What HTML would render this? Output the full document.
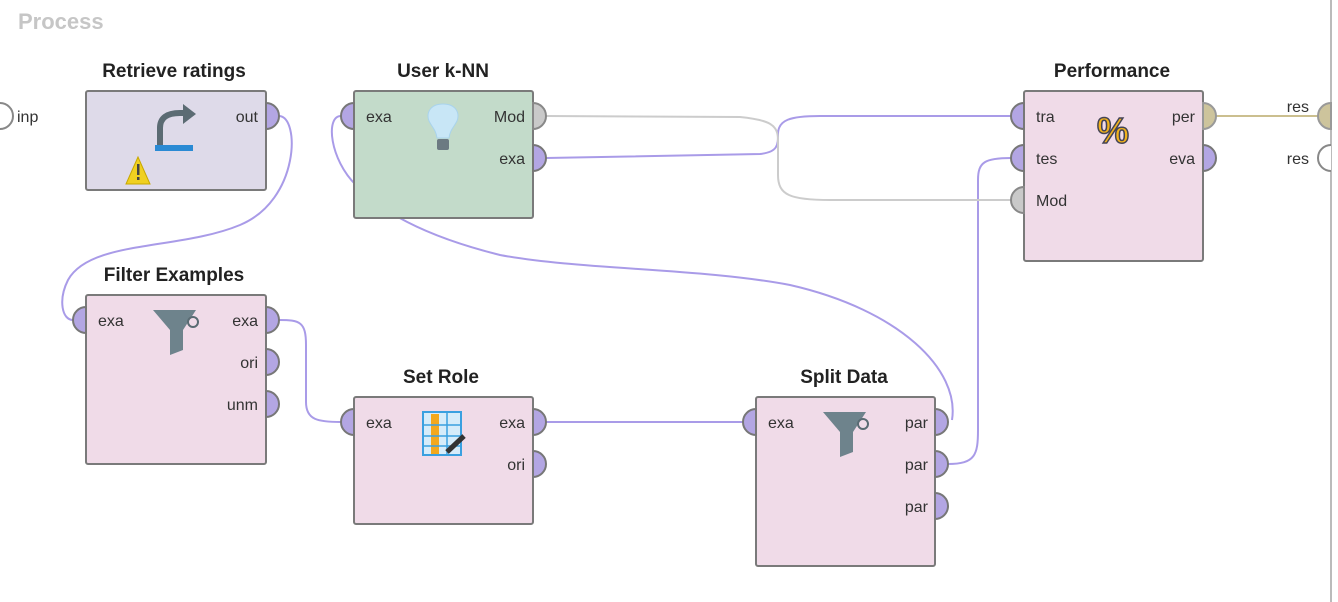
<!DOCTYPE html>
<html><head><meta charset="utf-8"><style>
html,body{margin:0;padding:0;background:#fff;width:1338px;height:602px;overflow:hidden}
svg{display:block;font-family:"Liberation Sans",sans-serif}
.t{font-weight:bold;font-size:19px;fill:#222;text-anchor:middle}
.p{font-size:16px;fill:#333}
.n{stroke:#7a7a7a;stroke-width:2}
.pp{fill:#b3a6e3;stroke:#777;stroke-width:2}
.pg{fill:#c9c9c9;stroke:#888;stroke-width:2}
.pt{fill:#cdc49c;stroke:#999;stroke-width:2}
.w{fill:none;stroke:#a99be8;stroke-width:2}
.wg{fill:none;stroke:#cccccc;stroke-width:2}
</style></head><body>
<svg width="1338" height="602" viewBox="0 0 1338 602">
<text x="18" y="29" font-size="22" font-weight="bold" fill="#c6c6c6">Process</text>
<line x1="1331" y1="0" x2="1331" y2="602" stroke="#bbb" stroke-width="2"/>

<!-- wires -->
<path class="w" d="M279,116 C300,116 300,200 240,225 C180,250 90,240 68,280 C58,300 62,320 73,320"/>
<path class="w" d="M279,320 C300,320 306,322 306,345 L306,402 C306,420 318,422 341,422"/>
<path class="w" d="M546,422 L743,422"/>
<path class="w" d="M341,116 C325,116 330,160 356,185 C380,210 420,235 500,255 C580,270 700,268 790,285 C900,310 960,370 952,420"/>
<path class="w" d="M948,464 C975,464 978,455 978,430 L978,180 C978,162 985,158 1011,158"/>
<path class="w" d="M546,158 L760,154 C778,152 778,145 778,134 C778,120 790,116 820,116 L1011,116"/>
<path class="wg" d="M546,116 L740,117 C770,120 778,125 778,140 L778,175 C778,195 790,200 830,200 L1011,200"/>
<path d="M1216,116 L1318,116" stroke="#cbbf8f" stroke-width="2"/>

<!-- left inp -->
<path class="pg" d="M0,103 A13,13 0 0 1 0,129" style="fill:#fff"/>
<text x="17" y="122" class="p">inp</text>
<!-- right res -->
<path class="pt" d="M1331,103 A13,13 0 0 0 1331,129 Z"/>
<text x="1309" y="112" class="p" text-anchor="end">res</text>
<path class="pg" d="M1331,145 A13,13 0 0 0 1331,171" style="fill:#fff"/>
<text x="1309" y="164" class="p" text-anchor="end">res</text>

<!-- Retrieve ratings -->
<text x="174" y="77" class="t">Retrieve ratings</text>
<rect x="86" y="91" width="180" height="99" rx="2" fill="#dedae9" class="n"/>
<path class="pp" d="M266,103 A13,13 0 0 1 266,129 Z"/>
<text x="258" y="122" class="p" text-anchor="end">out</text>
<path d="M160,145 L160,128 Q160,113 180,113 L185,113" stroke="#5b6b73" stroke-width="6" fill="none"/>
<path d="M183,104 L196,114 L183,124 Z" fill="#5b6b73"/>
<rect x="155" y="145" width="38" height="6" fill="#2a8ad4"/>
<path d="M138,157 L126,184 L150,184 Z" fill="#f0d020" stroke="#c8a800"/>
<rect x="137" y="164" width="2.5" height="11" fill="#444"/><rect x="137" y="177" width="2.5" height="3" fill="#444"/>

<!-- User k-NN -->
<text x="443" y="77" class="t">User k-NN</text>
<rect x="354" y="91" width="179" height="127" rx="2" fill="#c3dbca" class="n"/>
<path class="pp" d="M354,103 A13,13 0 0 0 354,129 Z"/>
<text x="366" y="122" class="p">exa</text>
<path class="pg" d="M533,103 A13,13 0 0 1 533,129 Z"/>
<text x="525" y="122" class="p" text-anchor="end">Mod</text>
<path class="pp" d="M533,145 A13,13 0 0 1 533,171 Z"/>
<text x="525" y="164" class="p" text-anchor="end">exa</text>
<path d="M443,104 C430,104 426,113 429,121 C432,127 436,130 437,138 L449,138 C450,130 454,127 457,121 C460,113 456,104 443,104 Z" fill="#c8e6f6" stroke="#a9d3ec"/>
<rect x="437" y="139" width="12" height="11" rx="2" fill="#6c7a82"/>

<!-- Performance -->
<text x="1112" y="77" class="t">Performance</text>
<rect x="1024" y="91" width="179" height="170" rx="2" fill="#f0dbe8" class="n"/>
<path class="pp" d="M1024,103 A13,13 0 0 0 1024,129 Z"/>
<text x="1036" y="122" class="p">tra</text>
<path class="pp" d="M1024,145 A13,13 0 0 0 1024,171 Z"/>
<text x="1036" y="164" class="p">tes</text>
<path class="pg" d="M1024,187 A13,13 0 0 0 1024,213 Z"/>
<text x="1036" y="206" class="p">Mod</text>
<path class="pt" d="M1203,103 A13,13 0 0 1 1203,129 Z"/>
<text x="1195" y="122" class="p" text-anchor="end">per</text>
<path class="pp" d="M1203,145 A13,13 0 0 1 1203,171 Z"/>
<text x="1195" y="164" class="p" text-anchor="end">eva</text>
<text x="1113" y="143" font-size="36" font-weight="bold" fill="#f2b21b" stroke="#445" stroke-width="1.5" text-anchor="middle">%</text>

<!-- Filter Examples -->
<text x="174" y="281" class="t">Filter Examples</text>
<rect x="86" y="295" width="180" height="169" rx="2" fill="#f0dbe8" class="n"/>
<path class="pp" d="M86,307 A13,13 0 0 0 86,333 Z"/>
<text x="98" y="326" class="p">exa</text>
<path class="pp" d="M266,307 A13,13 0 0 1 266,333 Z"/>
<text x="258" y="326" class="p" text-anchor="end">exa</text>
<path class="pp" d="M266,349 A13,13 0 0 1 266,375 Z"/>
<text x="258" y="368" class="p" text-anchor="end">ori</text>
<path class="pp" d="M266,391 A13,13 0 0 1 266,417 Z"/>
<text x="258" y="410" class="p" text-anchor="end">unm</text>
<path d="M153,310 L196,310 L183,330 L183,350 L170,355 L170,330 Z" fill="#6e838c"/>
<circle cx="193" cy="322" r="5" fill="none" stroke="#5a6b73" stroke-width="2"/>

<!-- Set Role -->
<text x="441" y="383" class="t">Set Role</text>
<rect x="354" y="397" width="179" height="127" rx="2" fill="#f0dbe8" class="n"/>
<path class="pp" d="M354,409 A13,13 0 0 0 354,435 Z"/>
<text x="366" y="428" class="p">exa</text>
<path class="pp" d="M533,409 A13,13 0 0 1 533,435 Z"/>
<text x="525" y="428" class="p" text-anchor="end">exa</text>
<path class="pp" d="M533,451 A13,13 0 0 1 533,477 Z"/>
<text x="525" y="470" class="p" text-anchor="end">ori</text>
<rect x="423" y="412" width="38" height="43" fill="#d6ecfa" stroke="#3aa0e0" stroke-width="2"/>
<rect x="431" y="414" width="8" height="40" fill="#f2a81c"/>
<path d="M423,425 H461 M423,436 H461 M423,446 H461 M447,412 V455" stroke="#3aa0e0" stroke-width="1.5"/>
<path d="M447,452 L464,436" stroke="#333" stroke-width="5"/>

<!-- Split Data -->
<text x="844" y="383" class="t">Split Data</text>
<rect x="756" y="397" width="179" height="169" rx="2" fill="#f0dbe8" class="n"/>
<path class="pp" d="M756,409 A13,13 0 0 0 756,435 Z"/>
<text x="768" y="428" class="p">exa</text>
<path class="pp" d="M935,409 A13,13 0 0 1 935,435 Z"/>
<text x="928" y="428" class="p" text-anchor="end">par</text>
<path class="pp" d="M935,451 A13,13 0 0 1 935,477 Z"/>
<text x="928" y="470" class="p" text-anchor="end">par</text>
<path class="pp" d="M935,493 A13,13 0 0 1 935,519 Z"/>
<text x="928" y="512" class="p" text-anchor="end">par</text>
<path d="M823,412 L866,412 L853,432 L853,452 L840,457 L840,432 Z" fill="#6e838c"/>
<circle cx="863" cy="424" r="5" fill="none" stroke="#5a6b73" stroke-width="2"/>
</svg>
</body></html>
